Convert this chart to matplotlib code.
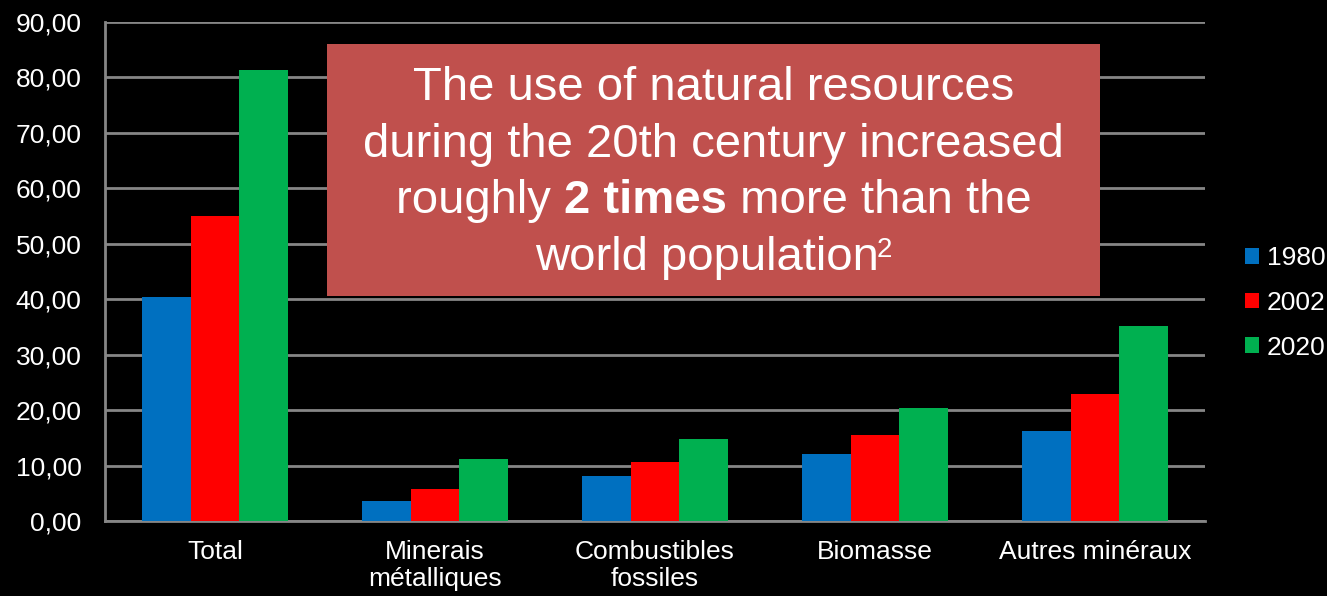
import matplotlib.pyplot as plt
from matplotlib.patches import Rectangle
import numpy as np

categories = ["Total", "Minerais\nmétalliques", "Combustibles\nfossiles",
              "Biomasse", "Autres minéraux"]
years = ["1980", "2002", "2020"]
values_1980 = [40.4, 3.6, 8.1, 12.1, 16.3]
values_2002 = [55.0, 5.7, 10.6, 15.5, 22.9]
values_2020 = [81.4, 11.1, 14.7, 20.4, 35.2]
colors = ["#0070C0", "#FF0000", "#00B050"]

plt.rcParams['font.family'] = ['Liberation Sans', 'DejaVu Sans']

W, H = 1327, 596
fig = plt.figure(figsize=(W / 100, H / 100), dpi=100, facecolor="black")
ax = fig.add_axes([105 / W, 1 - 521 / H, 1100 / W, 499 / H])
ax.set_facecolor("black")

x = np.arange(len(categories))
width = 0.221
series = [values_1980, values_2002, values_2020]
for i, (vals, col, yr) in enumerate(zip(series, colors, years)):
    ax.bar(x + (i - 1) * width, vals, width, color=col, label=yr, zorder=3)

ax.set_xlim(-0.5, len(categories) - 0.5)
ax.set_ylim(0, 90)
ax.set_yticks(np.arange(0, 91, 10))
ax.set_yticklabels([f"{v:.2f}".replace(".", ",") for v in np.arange(0, 91, 10)])
ax.set_xticks(x)
ax.set_xticklabels(categories, linespacing=1.15)
ax.tick_params(colors="white", labelsize=19, length=0)
ax.tick_params(axis="y", pad=17)
ax.tick_params(axis="x", pad=14)
ax.yaxis.grid(True, color="#868686", linewidth=2, zorder=0)
for side in ["top", "right"]:
    ax.spines[side].set_visible(False)
for side in ["left", "bottom"]:
    ax.spines[side].set_color("#868686")
    ax.spines[side].set_linewidth(2)

ax.legend(loc="center left", bbox_to_anchor=(1245 / W, 1 - 303 / H),
          bbox_transform=fig.transFigure, frameon=False, fontsize=19,
          labelcolor="white", handlelength=0.53, handleheight=0.53,
          handletextpad=0.3, labelspacing=0.78, borderpad=0, borderaxespad=0)

# highlighted message box
box = Rectangle((327 / W, 1 - 296 / H), 773 / W, 252 / H,
                transform=fig.transFigure, facecolor="#C0504D",
                edgecolor="none", zorder=5)
fig.patches.append(box)

cx = 713.5 / W
fs = 34
kw = dict(color="white", fontsize=fs, va="baseline", zorder=6)
fig.text(cx, 1 - 100.5 / H, "The use of natural resources", ha="center", **kw)
fig.text(cx, 1 - 157 / H, "during the 20th century increased", ha="center", **kw)

# third line mixes regular and bold runs: lay them out after measuring
y3 = 1 - 213 / H
parts = [fig.text(0, y3, "roughly ", ha="left", **kw),
         fig.text(0, y3, "2 times", ha="left", fontweight="bold", **kw),
         fig.text(0, y3, " more than the", ha="left", **kw)]
renderer = fig.canvas.get_renderer()
widths = [p.get_window_extent(renderer).width for p in parts]
xpos = cx * W - sum(widths) / 2
for p, w in zip(parts, widths):
    p.set_x(xpos / W)
    xpos += w

# last line with superscript 2
y4 = 1 - 270 / H
gap = -2
t4 = fig.text(0, y4, "world population", ha="left", **kw)
sup = fig.text(0, 1 - 257 / H, "2", ha="left", color="white", fontsize=20,
               va="baseline", zorder=6)
w4 = t4.get_window_extent(renderer).width
ws = sup.get_window_extent(renderer).width
x4 = cx * W - (w4 + ws + gap) / 2
t4.set_x(x4 / W)
sup.set_x((x4 + w4 + gap) / W)

fig.savefig("out.png", dpi=100, facecolor="black")
